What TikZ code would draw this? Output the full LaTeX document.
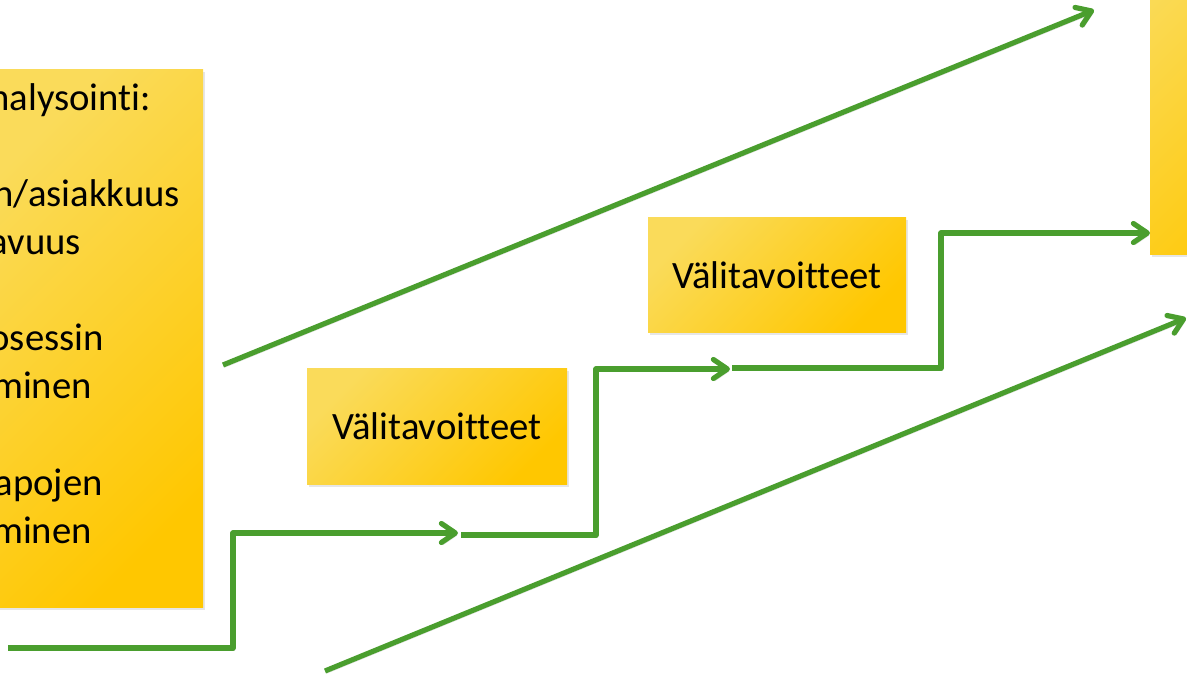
\documentclass[tikz,border=0pt]{standalone}
\usepackage{fontspec}
\setmainfont{Carlito}[Ligatures=NoCommon]
\usetikzlibrary{arrows.meta,shadows}
\definecolor{grn}{RGB}{74,158,46}
\definecolor{ylight}{RGB}{250,219,90}
\definecolor{ydark}{RGB}{255,199,0}
\begin{document}
\begin{tikzpicture}[x=1pt,y=-1pt,
  box/.style={shading=axis, top color=ylight, bottom color=ydark, shading angle=45,
    inner sep=0pt, font=\fontsize{38.7}{47.3}\selectfont,
    drop shadow={shadow xshift=2pt, shadow yshift=-2.5pt, opacity=0.2}},
  connshadow/.style={preaction={draw=black, opacity=0.15, transform canvas={xshift=1.5pt,yshift=-2.5pt}}},
  conn/.style={draw=grn, line width=5.2pt, line join=round, connshadow,
    -{Straight Barb[length=14pt,width=19pt,round]}},
  lbl/.style={anchor=base east, inner sep=0pt, font=\fontsize{38.7}{47.3}\selectfont}]
\useasboundingbox (0,0) rectangle (1187,676);
\clip (0,0) rectangle (1187,676);
% boxes
\node[box, minimum width=213pt, minimum height=537pt] (L) at (96.5,338.5) {};
\node[box, minimum width=260pt, minimum height=115pt] (V1) at (437,426.5) {Välitavoitteet};
\node[box, minimum width=258pt, minimum height=115pt] (V2) at (777,275.5) {Välitavoitteet};
\node[box, minimum width=200pt, minimum height=355pt] (R) at (1250,77.5) {};
% left box text
\node[lbl] (t1) at (151,111) {nalysointi:};
\node[lbl] (t2) at (180,207) {n/asiakkuus};
\node[lbl] (t3) at (81,255) {avuus};
\node[lbl] (t4) at (104,351) {osessin};
\node[lbl] (t5) at (92,399) {minen};
\node[lbl] (t6) at (103,495) {apojen};
\node[lbl] (t7) at (92,543) {minen};
% connectors
\coordinate (a0) at (8,648);
\coordinate (a1) at (233,533);
\coordinate (a2) at (458,533);
\coordinate (b0) at (461,535);
\coordinate (b1) at (596,369);
\coordinate (b2) at (730,369);
\coordinate (c0) at (732,368);
\coordinate (c1) at (941,233);
\coordinate (c2) at (1150,233);
\coordinate (u0) at (223,365);
\coordinate (u1) at (1094,10);
\coordinate (l0) at (325,671);
\coordinate (l1) at (1186,318);
\draw[conn] (a0) -| (a1) -- (a2);
\draw[conn] (b0) -| (b1) -- (b2);
\draw[conn] (c0) -| (c1) -- (c2);
\draw[conn] (u0) -- (u1);
\draw[conn] (l0) -- (l1);
\end{tikzpicture}
\end{document}
